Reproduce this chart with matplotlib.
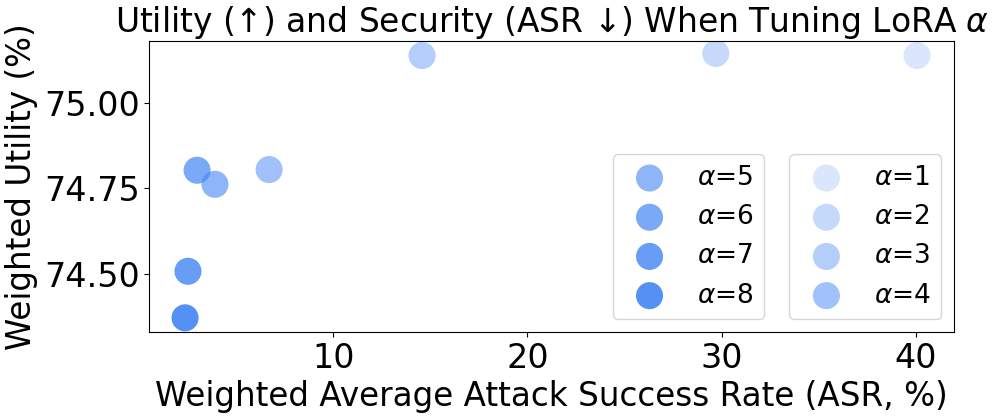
import numpy as np
import matplotlib
matplotlib.use('Agg')
import matplotlib.pyplot as plt

# LoRA alpha settings and measured results
alphas = [1, 2, 3, 4, 5, 6, 7, 8]
asr = [40.07, 29.7, 14.57, 6.69, 3.9, 2.98, 2.51, 2.36]
utility = [75.138, 75.144, 75.138, 74.805, 74.762, 74.803, 74.508, 74.372]
opacity = [0.2, 0.3, 0.4, 0.5, 0.6, 0.7, 0.8, 0.9]

base_color = '#4285F4'

fig, ax = plt.subplots(figsize=(9.97, 4.2), dpi=100)
fig.subplots_adjust(left=0.1498, right=0.957, top=0.902, bottom=0.209)

handles = []
for a, x, y, op in zip(alphas, asr, utility, opacity):
    h = ax.scatter(x, y, s=380, color=base_color, alpha=op, edgecolors='none',
                   label=rf'$\alpha$={a}')
    handles.append(h)

ax.set_xlim(0.52, 41.98)
ax.set_ylim(74.33, 75.18)
ax.set_xticks([10, 20, 30, 40])
ax.set_yticks([74.50, 74.75, 75.00])
ax.yaxis.set_major_formatter(matplotlib.ticker.FormatStrFormatter('%.2f'))
ax.tick_params(labelsize=24)

ax.set_xlabel('Weighted Average Attack Success Rate (ASR, %)', fontsize=23.5)
ax.set_ylabel('Weighted Utility (%)', fontsize=23.5)
ax.set_title(r'Utility (↑) and Security (ASR ↓) When Tuning LoRA $\alpha$', fontsize=23.7)

# two legends: high alphas on the left, low alphas on the right
leg1 = ax.legend(handles=handles[4:], loc='lower right', bbox_to_anchor=(0.764, 0.045),
                 borderaxespad=0, fontsize=19, handletextpad=0.8)
ax.add_artist(leg1)
ax.legend(handles=handles[:4], loc='lower right', bbox_to_anchor=(0.984, 0.045),
          borderaxespad=0, fontsize=19, handletextpad=0.8)

plt.savefig('out.png')
